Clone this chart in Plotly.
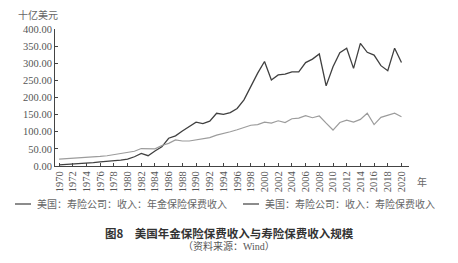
import plotly.graph_objects as go

years = list(range(1970, 2021))
annuity = [3, 4, 5, 6, 8, 10, 12, 13, 15, 17, 20, 27, 37, 30, 44, 56, 81, 88, 102, 115,
           128, 124, 131, 154, 151, 156, 168, 193, 232, 271, 305, 251, 266, 268, 275, 275,
           302, 312, 327, 234, 290, 331, 344, 285, 358, 332, 324, 293, 278, 344, 302]
life = [20, 21, 23, 24, 25, 26, 28, 30, 33, 35, 38, 43, 51, 50, 50, 60, 66, 76, 73, 73,
        76, 79, 83, 90, 94, 100, 106, 113, 119, 121, 128, 125, 132, 127, 138, 140,
        147, 141, 146, 125, 105, 127, 134, 128, 136, 154, 121, 142, 149, 154, 144]
names = ["美国：寿险公司：收入：年金保险保费收入", "美国：寿险公司：收入：寿险保费收入"]
colors = ["#404040", "#9c9c9c"]
y_ticks = [0, 50, 100, 150, 200, 250, 300, 350, 400]

serif = "Liberation Serif, Noto Sans CJK SC"
cjk = "Noto Sans CJK SC"

fig = go.Figure()
fig.add_trace(go.Scatter(x=years, y=annuity, mode="lines", name=names[0],
                         line=dict(color=colors[0], width=1.3)))
fig.add_trace(go.Scatter(x=years, y=life, mode="lines", name=names[1],
                         line=dict(color=colors[1], width=1.2)))

fig.update_layout(
    width=458, height=263,
    margin=dict(l=55, r=49, t=29, b=97),
    paper_bgcolor="white", plot_bgcolor="white",
    showlegend=False,
    font=dict(family=serif, color="#555555", size=10),
    xaxis=dict(range=[1969.4, 2021.1], tickmode="array",
               tickvals=list(range(1970, 2021, 2)),
               ticktext=[str(y) for y in range(1970, 2021, 2)],
               tickangle=-90, ticks="inside", ticklen=3, tickcolor="#444",
               showline=True, linecolor="#444", linewidth=1, showgrid=False,
               zeroline=False, tickfont=dict(family=serif, size=10.5, color="#555")),
    yaxis=dict(range=[0, 400], tickvals=y_ticks,
               ticktext=[f"{v:.2f}" for v in y_ticks],
               ticks="inside", ticklen=3, tickcolor="#444",
               showline=True, linecolor="#444", linewidth=1, showgrid=False,
               zeroline=False, tickfont=dict(family=serif, size=10.5, color="#555")),
)

ann = [
    dict(text="十亿美元", x=16, y=14, font=dict(family=cjk, size=10, color="#666")),
    dict(text="年", x=415, y=181, font=dict(family=cjk, size=10, color="#666")),
    dict(text=names[0], x=35, y=204, font=dict(family=cjk, size=10, color="#666")),
    dict(text=names[1], x=263, y=204, font=dict(family=cjk, size=10, color="#666")),
]
for a in ann:
    fig.add_annotation(text=a["text"], xref="paper", yref="paper",
                       x=(a["x"] - 55) / 354, y=(166 - a["y"]) / 137,
                       xanchor="left", yanchor="middle", showarrow=False, font=a["font"])

fig.add_annotation(text="<b>图8　美国年金保险保费收入与寿险保费收入规模</b>", xref="paper", yref="paper",
                   x=(229 - 55) / 354, y=(166 - 233) / 137, xanchor="center", yanchor="middle",
                   showarrow=False, font=dict(family=cjk, size=11.5, color="#333"))
fig.add_annotation(text="（资料来源：Wind）", xref="paper", yref="paper",
                   x=(229 - 55) / 354, y=(166 - 246) / 137, xanchor="center", yanchor="middle",
                   showarrow=False, font=dict(family=serif, size=10, color="#555"))

for x0, c in [(15, colors[0]), (243, colors[0])]:
    fig.add_shape(type="line", xref="paper", yref="paper",
                  x0=(x0 - 55) / 354, x1=(x0 + 16 - 55) / 354,
                  y0=(166 - 204) / 137, y1=(166 - 204) / 137,
                  line=dict(color=c, width=1.2))

fig.write_html("out.html")
